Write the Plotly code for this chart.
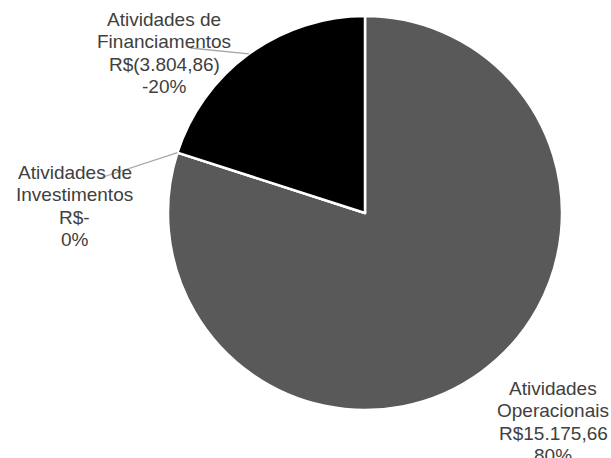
import math
import plotly.graph_objects as go

categories = ["Atividades Operacionais", "Atividades de Investimentos", "Atividades de Financiamentos"]
values = [15175.66, 0.0, 3804.86]
value_labels = ["R$15.175,66", "R$-", "R$(3.804,86)"]
pct_labels = ["80%", "0%", "-20%"]
label_lines = [["Atividades", "Operacionais"], ["Atividades de", "Investimentos"], ["Atividades de", "Financiamentos"]]
colors = ["#595959", "#7f7f7f", "#000000"]

W, H = 611, 458
cx, cy, r = 365, 213, 197

fig = go.Figure(go.Pie(
    labels=categories, values=values, sort=False, direction="clockwise", rotation=0,
    marker=dict(colors=colors, line=dict(color="white", width=2.5)),
    textinfo="none", hoverinfo="label+value", showlegend=False,
    domain=dict(x=[(cx - r) / W, (cx + r) / W], y=[(H - cy - r) / H, (H - cy + r) / H]),
))

total = sum(values)
fracs = [v / total for v in values]
cum = [sum(fracs[:i]) for i in range(len(fracs))]

def edge(c):
    th = 2 * math.pi * c
    return cx + r * math.sin(th), cy - r * math.cos(th)

label_pos = [(553, 388.5), (74.5, 172.5), (164, 19.5)]
spacing = 22.3
ann = []
for i in range(3):
    lines = label_lines[i] + [value_labels[i], pct_labels[i]]
    x0, y0 = label_pos[i]
    for k, t in enumerate(lines):
        ann.append(dict(x=x0 / W, y=1 - (y0 + k * spacing) / H, xref="paper", yref="paper",
                        text=t, showarrow=False, xanchor="center", yanchor="middle",
                        font=dict(family="Liberation Sans, Arial", size=19, color="#404040")))

shapes = []
fx, fy = edge(cum[2] + fracs[2] / 2)
shapes.append(dict(type="line", xref="paper", yref="paper", x0=190 / W, y0=1 - 48 / H,
                   x1=fx / W, y1=1 - fy / H, line=dict(color="#a6a6a6", width=1.3)))
ix, iy = edge(cum[1] + fracs[1] / 2)
shapes.append(dict(type="line", xref="paper", yref="paper", x0=100 / W, y0=1 - 178 / H,
                   x1=ix / W, y1=1 - iy / H, line=dict(color="#a6a6a6", width=1.3)))

fig.update_layout(width=W, height=H, margin=dict(l=0, r=0, t=0, b=0),
                  paper_bgcolor="white", plot_bgcolor="white",
                  annotations=ann, shapes=shapes)
fig.write_html("out.html", config={"displayModeBar": False},
               post_script="document.body.style.margin='0';document.body.style.overflow='hidden';")
